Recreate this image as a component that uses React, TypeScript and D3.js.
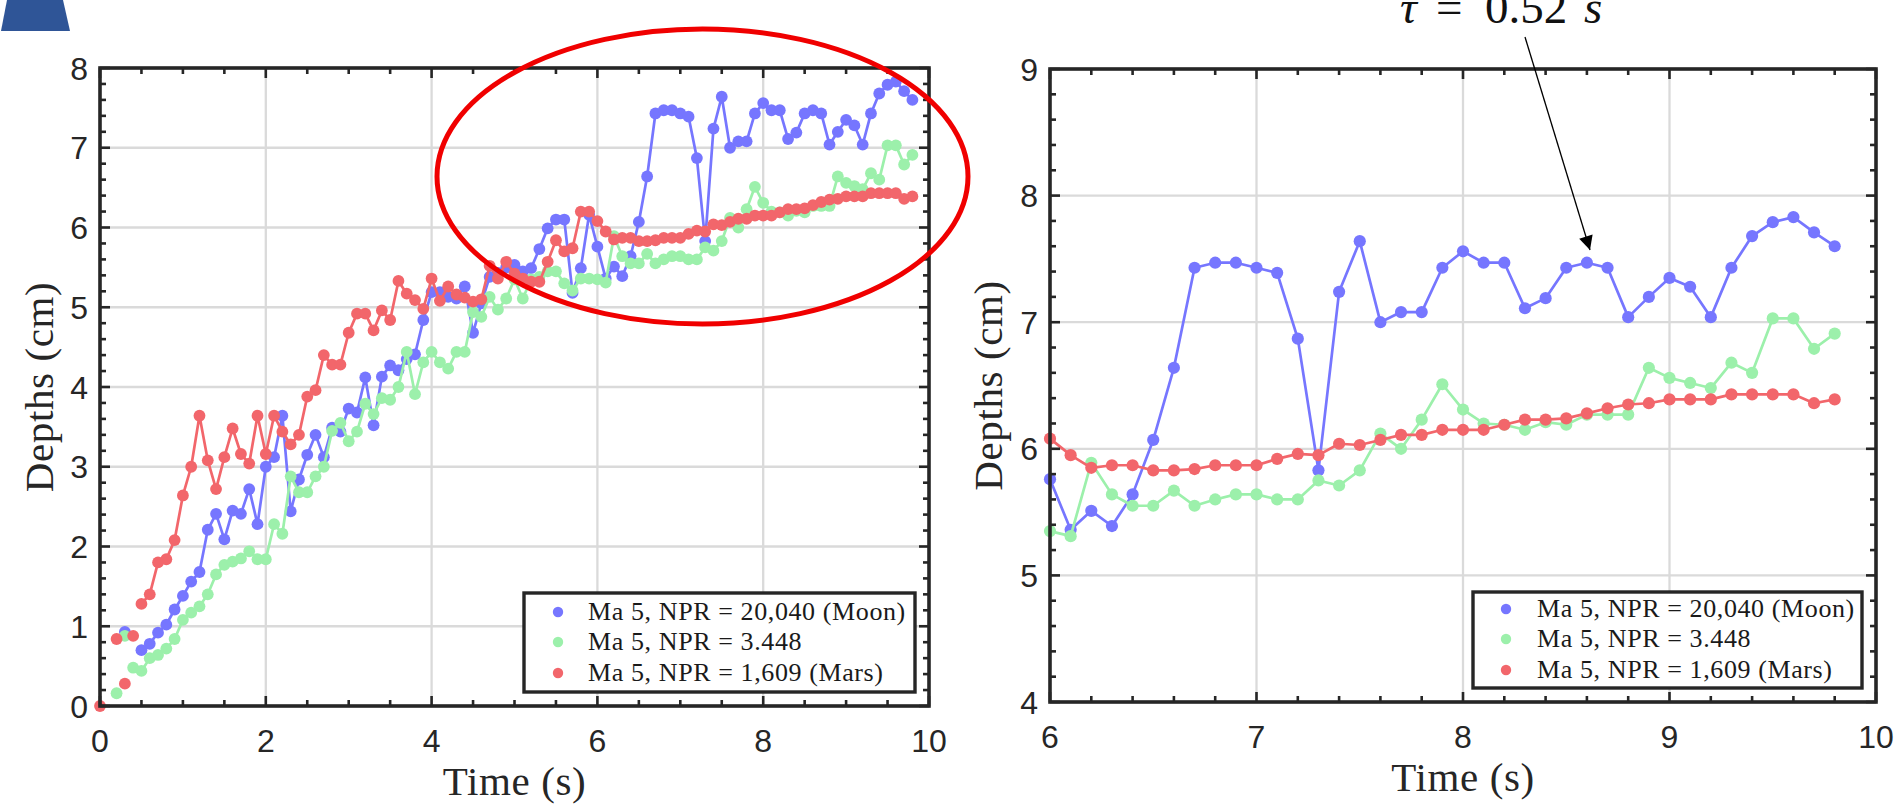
import React from "react";
import * as d3 from "d3";

// sample times, 0.1 s apart (0 .. 9.8 s)
const times = d3.range(99).map((i) => +(i * 0.1).toFixed(1));

// depths in cm, one value per sample time (null = no marker)
const moonDepths = [
  null, null, null, 0.93, null, 0.7, 0.78, 0.92, 1.02, 1.21,
  1.38, 1.56, 1.68, 2.21, 2.41, 2.09, 2.45, 2.41, 2.72, 2.28,
  3.0, 3.12, 3.64, 2.44, 2.84, 3.15, 3.4, 3.12, 3.49, 3.44,
  3.73, 3.68, 4.12, 3.52, 4.13, 4.27, 4.21, 4.35, 4.41, 4.84,
  5.19, 5.19, 5.13, 5.11, 5.26, 4.68, 5.05, 5.38, 5.43, 5.5,
  5.53, 5.45, 5.49, 5.73, 5.99, 6.1, 6.1, 5.18, 5.49, 6.16,
  5.76, 5.36, 5.51, 5.39, 5.64, 6.07, 6.64, 7.43, 7.47, 7.47,
  7.43, 7.39, 6.87, 5.83, 7.24, 7.64, 7.0, 7.08, 7.08, 7.43,
  7.56, 7.47, 7.47, 7.11, 7.19, 7.43, 7.47, 7.43, 7.04, 7.2,
  7.35, 7.28, 7.04, 7.43, 7.68, 7.79, 7.83, 7.71, 7.6,
];
const midDepths = [
  null, null, 0.16, 0.88, 0.48, 0.44, 0.6, 0.64, 0.72, 0.84,
  1.08, 1.17, 1.25, 1.4, 1.65, 1.77, 1.81, 1.85, 1.94, 1.84,
  1.84, 2.28, 2.16, 2.88, 2.68, 2.68, 2.88, 3.0, 3.45, 3.55,
  3.32, 3.44, 3.79, 3.66, 3.86, 3.84, 4.0, 4.44, 3.91, 4.31,
  4.44, 4.31, 4.23, 4.44, 4.44, 4.94, 4.88, 5.13, 4.97, 5.11,
  5.35, 5.11, 5.35, 5.38, 5.45, 5.45, 5.3, 5.21, 5.36, 5.36,
  5.35, 5.31, 5.89, 5.64, 5.55, 5.55, 5.67, 5.55, 5.6, 5.64,
  5.64, 5.6, 5.6, 5.75, 5.71, 5.83, 6.12, 6.0, 6.23, 6.51,
  6.31, 6.2, 6.19, 6.15, 6.21, 6.19, 6.27, 6.27, 6.27, 6.64,
  6.56, 6.52, 6.48, 6.68, 6.6, 7.03, 7.03, 6.79, 6.91,
];
const marsDepths = [
  0.0, null, 0.84, 0.28, 0.88, 1.28, 1.4, 1.8, 1.84, 2.08,
  2.64, 3.0, 3.64, 3.08, 2.72, 3.12, 3.48, 3.16, 3.04, 3.64,
  3.16, 3.64, 3.44, 3.28, 3.4, 3.88, 3.96, 4.4, 4.28, 4.28,
  4.68, 4.92, 4.92, 4.71, 4.96, 4.84, 5.33, 5.17, 5.09, 4.98,
  5.36, 5.08, 5.26, 5.16, 5.12, 5.07, 5.1, 5.52, 5.36, 5.57,
  5.42, 5.36, 5.32, 5.32, 5.57, 5.84, 5.7, 5.74, 6.2, 6.2,
  6.08, 5.95, 5.85, 5.87, 5.87, 5.83, 5.83, 5.84, 5.87, 5.87,
  5.87, 5.92, 5.96, 5.95, 6.04, 6.03, 6.07, 6.11, 6.11, 6.15,
  6.15, 6.15, 6.19, 6.23, 6.23, 6.24, 6.28, 6.32, 6.35, 6.36,
  6.39, 6.39, 6.39, 6.43, 6.43, 6.43, 6.43, 6.36, 6.39,
];

const seriesNames = [
  "Ma 5, NPR = 20,040 (Moon)",
  "Ma 5, NPR = 3.448",
  "Ma 5, NPR = 1,609 (Mars)",
];
const seriesData = [moonDepths, midDepths, marsDepths];
const seriesColors = ["#7676ff", "#9cf0ab", "#f2666b"];
const lineStart = [0.5, 0.5, 0.5];

const leftXTicks = [0, 2, 4, 6, 8, 10];
const leftYTicks = [0, 1, 2, 3, 4, 5, 6, 7, 8];
const rightXTicks = [6, 7, 8, 9, 10];
const rightYTicks = [4, 5, 6, 7, 8, 9];

const xLabel = "Time (s)";
const yLabel = "Depths (cm)";

const W = 1897;
const H = 806;
const AX = "#262626";
const GRID = "#dadada";
const SERIF = "'Liberation Serif', 'Times New Roman', serif";
const SANS = "'Liberation Sans', Arial, sans-serif";

type PanelProps = {
  x: d3.ScaleLinear<number, number>;
  y: d3.ScaleLinear<number, number>;
  xTicks: number[];
  yTicks: number[];
  xMinor: number;
  yMinor: number;
  tMin: number;
  r: number;
  legend: { x: number; y: number; w: number; h: number; dot: number; text: number; rows: number[] };
  yLabelX: number;
};

function Panel({ x, y, xTicks, yTicks, xMinor, yMinor, tMin, r, legend, yLabelX }: PanelProps) {
  const [x0, x1] = x.range();
  const [yb, yt] = y.range();
  const xd = x.domain();
  const yd = y.domain();
  const xm = d3.range(xd[0], xd[1] + 1e-6, xMinor);
  const ym = d3.range(yd[0], yd[1] + 1e-6, yMinor);

  return (
    <g>
      {/* grid */}
      {xTicks.slice(1, -1).map((t) => (
        <line key={"gx" + t} x1={x(t)} x2={x(t)} y1={yt} y2={yb} stroke={GRID} strokeWidth={2.3} />
      ))}
      {yTicks.slice(1, -1).map((t) => (
        <line key={"gy" + t} x1={x0} x2={x1} y1={y(t)} y2={y(t)} stroke={GRID} strokeWidth={2.3} />
      ))}

      {/* series */}
      {seriesData.map((vals, k) => {
        const pts = times
          .map((t, i) => ({ t, v: vals[i] }))
          .filter((p) => p.t >= tMin - 1e-6);
        const line = d3
          .line<{ t: number; v: number | null }>()
          .defined((p) => p.v != null && p.t >= lineStart[k] - 1e-6)
          .x((p) => x(p.t))
          .y((p) => y(p.v as number));
        return (
          <g key={"s" + k}>
            <path d={line(pts) || ""} fill="none" stroke={seriesColors[k]} strokeWidth={2.7} strokeLinejoin="round" />
            {pts
              .filter((p) => p.v != null)
              .map((p) => (
                <circle key={p.t} cx={x(p.t)} cy={y(p.v as number)} r={r} fill={seriesColors[k]} />
              ))}
          </g>
        );
      })}

      {/* ticks */}
      {xm.map((t) => {
        const major = xTicks.some((v) => Math.abs(v - t) < 1e-6);
        const len = major ? 10 : 6;
        return (
          <g key={"xt" + t}>
            <line x1={x(t)} x2={x(t)} y1={yb} y2={yb - len} stroke={AX} strokeWidth={2.6} />
            <line x1={x(t)} x2={x(t)} y1={yt} y2={yt + len} stroke={AX} strokeWidth={2.6} />
          </g>
        );
      })}
      {ym.map((t) => {
        const major = yTicks.some((v) => Math.abs(v - t) < 1e-6);
        const len = major ? 10 : 6;
        return (
          <g key={"yt" + t}>
            <line x1={x0} x2={x0 + len} y1={y(t)} y2={y(t)} stroke={AX} strokeWidth={2.6} />
            <line x1={x1} x2={x1 - len} y1={y(t)} y2={y(t)} stroke={AX} strokeWidth={2.6} />
          </g>
        );
      })}
      <rect x={x0} y={yt} width={x1 - x0} height={yb - yt} fill="none" stroke={AX} strokeWidth={3.6} />

      {/* tick labels */}
      {xTicks.map((t) => (
        <text key={"xl" + t} x={x(t)} y={yb + 46} textAnchor="middle" fontFamily={SANS} fontSize={32} fill={AX}>
          {t}
        </text>
      ))}
      {yTicks.map((t) => (
        <text key={"yl" + t} x={x0 - 12} y={y(t) + 11.5} textAnchor="end" fontFamily={SANS} fontSize={32} fill={AX}>
          {t}
        </text>
      ))}

      {/* axis labels */}
      <text
        x={(x0 + x1) / 2}
        y={yb + 89}
        textAnchor="middle"
        fontFamily={SERIF}
        fontSize={41}
        letterSpacing={0.6}
        fill={AX}
      >
        {xLabel}
      </text>
      <text
        transform={`translate(${yLabelX},${(yb + yt) / 2}) rotate(-90)`}
        textAnchor="middle"
        fontFamily={SERIF}
        fontSize={41}
        letterSpacing={0.6}
        fill={AX}
      >
        {yLabel}
      </text>

      {/* legend */}
      <rect x={legend.x} y={legend.y} width={legend.w} height={legend.h} fill="#fff" stroke={AX} strokeWidth={3.4} />
      {seriesNames.map((name, k) => (
        <g key={"lg" + k}>
          <circle cx={legend.dot} cy={legend.rows[k]} r={5.2} fill={seriesColors[k]} />
          <text
            x={legend.text}
            y={legend.rows[k] + 8}
            fontFamily={SERIF}
            fontSize={26}
            letterSpacing={0.6}
            fill="#1a1a1a"
          >
            {name}
          </text>
        </g>
      ))}
    </g>
  );
}

export default function App() {
  const xL = d3.scaleLinear().domain([0, 10]).range([100, 929]);
  const yL = d3.scaleLinear().domain([0, 8]).range([706, 68]);
  const xR = d3.scaleLinear().domain([6, 10]).range([1050, 1876]);
  const yR = d3.scaleLinear().domain([4, 9]).range([702, 69]);

  return (
    <svg
      width={W}
      height={H}
      viewBox={`0 0 ${W} ${H}`}
      style={{ position: "absolute", left: 0, top: 0, background: "#fff" }}
    >
      <defs>
        <marker
          id="arrowHead"
          viewBox="0 0 10 10"
          refX="10"
          refY="5"
          markerWidth="15"
          markerHeight="14"
          markerUnits="userSpaceOnUse"
          orient="auto"
        >
          <path d="M0,0 L10,5 L0,10 z" fill="#000" />
        </marker>
      </defs>
      <rect width={W} height={H} fill="#fff" />

      {/* corner shape */}
      <polygon points="7,0 63,0 70,31 1,31" fill="#2f5597" />

      <Panel
        x={xL}
        y={yL}
        xTicks={leftXTicks}
        yTicks={leftYTicks}
        xMinor={0.5}
        yMinor={0.2}
        tMin={0}
        r={5.9}
        legend={{ x: 524, y: 593, w: 391, h: 99, dot: 558, text: 588, rows: [612, 642, 673] }}
        yLabelX={53}
      />
      <Panel
        x={xR}
        y={yR}
        xTicks={rightXTicks}
        yTicks={rightYTicks}
        xMinor={0.2}
        yMinor={0.2}
        tMin={6}
        r={6.1}
        legend={{ x: 1473, y: 592, w: 389, h: 96, dot: 1506, text: 1537, rows: [609, 639, 670] }}
        yLabelX={1002}
      />

      {/* highlight ellipse */}
      <ellipse cx={702.5} cy={176.5} rx={265.5} ry={147.5} fill="none" stroke="#f00000" strokeWidth={5} />

      {/* annotation */}
      <text x={1400} y={23} fontFamily={SERIF} fontSize={47} fill="#111">
        <tspan fontStyle="italic">τ</tspan>
        <tspan x={1436}>=</tspan>
        <tspan x={1485}>0.52</tspan>
        <tspan x={1584} fontStyle="italic">s</tspan>
      </text>
      <line x1={1525} y1={37} x2={1590} y2={250} stroke="#000" strokeWidth={1.3} markerEnd="url(#arrowHead)" />
    </svg>
  );
}
